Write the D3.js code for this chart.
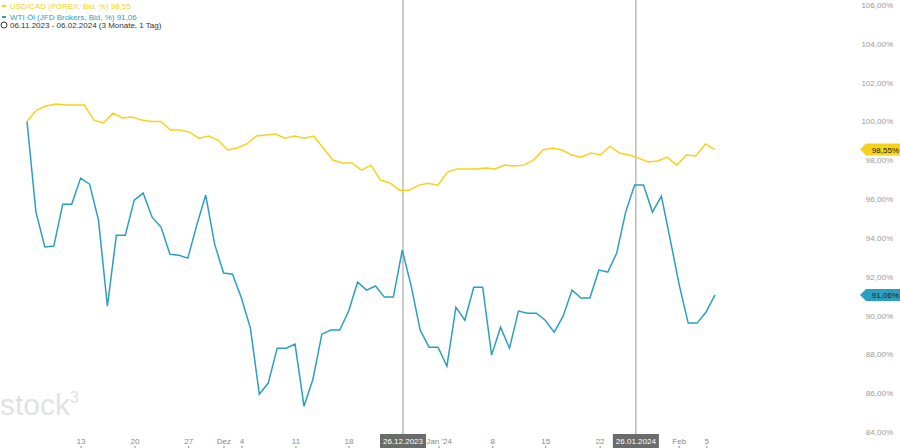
<!DOCTYPE html>
<html><head><meta charset="utf-8">
<script src="https://cdn.jsdelivr.net/npm/d3@7"></script>
<style>body{margin:0;background:#fff;font-family:Arial,"Liberation Sans",sans-serif}</style>
</head><body><div id="chart"></div>
<script>
// USD/CAD vs WTI Öl, normiert auf 100 %
const usdcad = [100.0,100.59,100.80,100.90,100.85,100.85,100.85,100.07,99.92,100.43,100.18,100.23,100.07,100.0,100.0,99.56,99.56,99.45,99.14,99.25,99.04,98.53,98.63,98.84,99.25,99.30,99.35,99.14,99.25,99.14,99.25,98.63,98.01,97.86,97.86,97.49,97.75,96.98,96.82,96.46,96.46,96.72,96.82,96.72,97.39,97.55,97.55,97.55,97.60,97.55,97.75,97.70,97.75,98.01,98.53,98.63,98.53,98.27,98.16,98.37,98.27,98.73,98.37,98.27,98.11,97.91,97.96,98.16,97.75,98.27,98.22,98.84,98.55];
const wti = [100,95.33,93.53,93.58,95.74,95.74,97.08,96.77,94.92,90.48,94.14,94.14,95.95,96.31,95.07,94.56,93.16,93.11,92.96,94.66,96.21,93.68,92.19,92.13,90.90,89.35,85.95,86.52,88.32,88.32,88.53,85.33,86.72,89.04,89.25,89.25,90.23,91.72,91.31,91.52,90.95,90.95,93.37,91.52,89.25,88.37,88.37,87.39,90.43,89.76,91.46,91.46,87.96,89.40,88.32,90.23,90.12,90.12,89.76,89.14,89.97,91.31,90.90,90.90,92.34,92.24,93.22,95.33,96.72,96.72,95.33,96.15,93.89,91.57,89.61,89.61,90.18,91.06];
const yTicks = [84,86,88,90,92,94,96,98,100,102,104,106];
const xTickLabels = ["13","20","27","Dez","4","11","18","26.12.2023","Jan '24","8","15","22","26.01.2024","Feb","5"];
const xTickPos = [0.0785,0.157,0.235,0.2863,0.3125,0.391,0.468,0.5465,0.599,0.677,0.754,0.833,0.885,0.948,0.988];
const markerPos = [0.5465,0.885];

const W = 900, H = 448;
const svg = d3.select('#chart').append('svg').attr('width', W).attr('height', H);
const x = d3.scaleLinear().domain([0, 1]).range([27, 715]);
const y = d3.scaleLinear().domain([84, 106]).range([432, 5]);
const fmt = v => v.toFixed(2).replace('.', ',') + '%';

// Wasserzeichen
svg.append('text').attr('x', 0).attr('y', 415).attr('fill', '#e2e2e2')
    .attr('font-size', 30).text('stock').append('tspan').attr('font-size', 16).attr('dy', -12).text('3');

// Markierungslinien
svg.selectAll('.vl').data(markerPos).enter().append('line')
    .attr('x1', d => x(d)).attr('x2', d => x(d)).attr('y1', 0).attr('y2', 448)
    .attr('stroke', '#999').attr('stroke-width', 1);

// Y-Achse rechts
svg.selectAll('.yt').data(yTicks).enter().append('text')
    .attr('x', 893).attr('y', d => y(d) + 3).attr('text-anchor', 'end')
    .attr('font-size', 8).attr('fill', '#999').text(fmt);

// X-Achse
xTickLabels.forEach((t, i) => {
    const px = x(xTickPos[i]);
    const boxed = t.length > 8;
    if (boxed) {
        svg.append('rect').attr('x', px - 23).attr('y', 434).attr('width', 46).attr('height', 14).attr('fill', '#6b6b6b');
    }
    svg.append('text').attr('x', px).attr('y', 444).attr('text-anchor', 'middle')
        .attr('font-size', 8).attr('fill', boxed ? '#fff' : '#888').text(t);
    if (!boxed) svg.append('line').attr('x1', px).attr('x2', px).attr('y1', 446).attr('y2', 448).attr('stroke', '#888');
});

// Linien
const series = [{ v: usdcad, c: '#f5d31a' }, { v: wti, c: '#2a9fc0' }];
series.forEach(s => {
    const line = d3.line().x((d, i) => x(i / (s.v.length - 1))).y(d => y(d));
    svg.append('path').datum(s.v).attr('d', line).attr('fill', 'none')
        .attr('stroke', s.c).attr('stroke-width', 1.5);
});

// Wert-Badges
series.forEach(s => {
    const last = s.v[s.v.length - 1], py = y(last);
    svg.append('path').attr('d', `M860,${py} L866,${py - 6} L900,${py - 6} L900,${py + 6} L866,${py + 6} Z`).attr('fill', s.c);
    svg.append('text').attr('x', 899).attr('y', py + 3).attr('text-anchor', 'end')
        .attr('font-size', 8).attr('fill', '#222').text(fmt(last));
});

// Legende
const legend = [
    { t: 'USD/CAD (FOREX, Bid, %) 98,55', c: '#f5d31a' },
    { t: 'WTI Öl (JFD Brokers, Bid, %) 91,06', c: '#2a9fc0' }
];
legend.forEach((d, i) => {
    svg.append('rect').attr('x', 2).attr('y', 5 + i * 11).attr('width', 4).attr('height', 2).attr('fill', d.c);
    svg.append('text').attr('x', 10).attr('y', 9 + i * 11).attr('font-size', 8).attr('fill', d.c).text(d.t);
});
svg.append('circle').attr('cx', 4).attr('cy', 25).attr('r', 3).attr('fill', 'none').attr('stroke', '#333');
svg.append('text').attr('x', 10).attr('y', 28).attr('font-size', 8).attr('fill', '#333')
    .text('06.11.2023 - 06.02.2024  (3 Monate, 1 Tag)');
</script></body></html>
